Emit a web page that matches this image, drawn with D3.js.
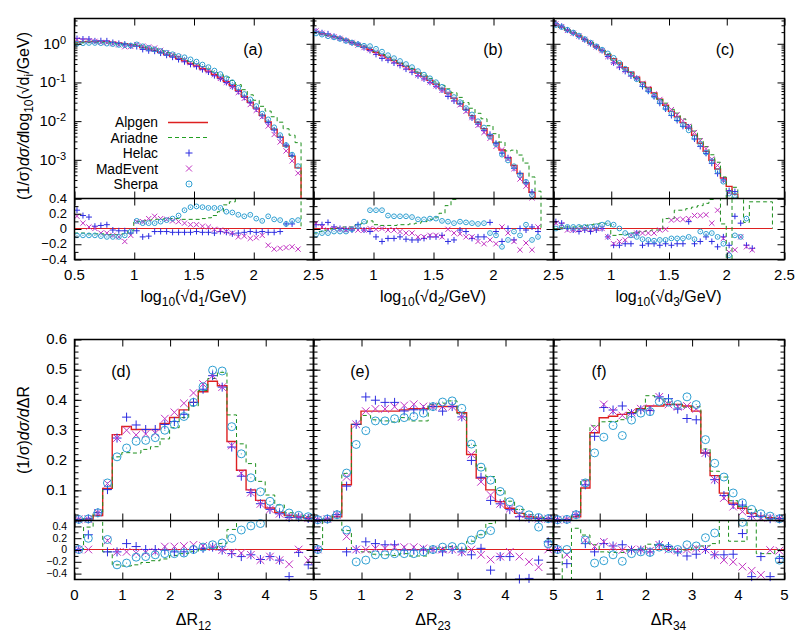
<!DOCTYPE html>
<html>
<head>
<meta charset="utf-8">
<script src="https://cdn.jsdelivr.net/npm/d3@7"></script>
<style>
body { margin: 0; background: #fff; }
svg text { font-family: "Liberation Sans", Arial, Helvetica, sans-serif; font-size: 15px; fill: #000; }
</style>
</head>
<body>
<script>
// ---- binning ----
const topBinLo = 0.5, topBinW = 0.05;   // log10(sqrt(d)/GeV) bins
const botBinLo = 0, botBinW = 0.2;      // Delta R bins

// ---- top row: Alpgen distribution, others as ratio (X - Alpgen)/Alpgen ----
const alpgenA = [1.07, 1.10, 1.12, 1.12, 1.12, 1.10, 1.07, 1.02, 0.98, 0.91, 0.85, 0.78, 0.71, 0.65, 0.58, 0.51, 0.46, 0.40, 0.35, 0.30,
  0.26, 0.22, 0.19, 0.155, 0.126, 0.102, 0.081, 0.060, 0.042, 0.030, 0.021, 0.0138, 0.0093, 0.0060, 0.0038, 0.0022, 0.0012, 0.0006];
const ariadneRatA = [-0.06, -0.06, -0.07, -0.07, -0.07, -0.08, -0.08, -0.08, -0.07, -0.03, 0.09, 0.10, 0.11, 0.12, 0.12, 0.13, 0.13, 0.13, 0.12, 0.12,
  0.12, 0.13, 0.14, 0.17, 0.22, 0.31, 0.35, 0.42, 0.5, 0.55, 0.6, 0.7, 0.9, 1.1, 1.4, 1.8, 2.5, 3.5];
const helacRatA = [0.24, 0.17, 0.15, 0.03, 0.04, 0.05, -0.02, -0.03, -0.03, -0.06, -0.03, -0.11, -0.10, -0.04, -0.04, -0.04, -0.05, -0.05, -0.05, -0.05,
  -0.04, -0.05, -0.05, -0.06, -0.04, -0.05, -0.07, -0.06, -0.05, -0.04, -0.05, -0.04, -0.05, -0.05, -0.04, 0.06, 0.06, null];
const madRatA = [0.16, 0.07, 0.02, 0.0, -0.06, -0.06, -0.09, -0.11, -0.17, -0.09, 0.09, 0.09, 0.13, 0.16, 0.13, 0.12, 0.10, 0.09, 0.07, 0.05,
  0.05, 0.03, 0.02, -0.01, -0.02, -0.04, -0.06, -0.11, -0.10, -0.13, -0.12, -0.09, -0.22, -0.27, -0.26, -0.25, -0.24, -0.27];
const sherpaRatA = [-0.09, -0.09, -0.09, -0.09, -0.10, -0.11, -0.11, -0.11, -0.09, -0.04, 0.10, 0.07, 0.07, 0.07, 0.09, 0.11, 0.13, 0.17, 0.24, 0.28,
  0.29, 0.28, 0.27, 0.27, 0.27, 0.22, 0.21, 0.18, 0.16, 0.18, 0.13, 0.10, 0.16, 0.12, 0.11, 0.06, 0.10, 0.11];

const alpgenB = [1.95, 1.78, 1.62, 1.48, 1.35, 1.20, 1.05, 0.91, 0.79, 0.68, 0.58, 0.49, 0.42, 0.355, 0.30, 0.25, 0.21, 0.17, 0.138, 0.110,
  0.087, 0.068, 0.051, 0.038, 0.0275, 0.0195, 0.0135, 0.0091, 0.0062, 0.0041, 0.0027, 0.00174, 0.0011, 0.00069, 0.00043, 0.00025, 0.00014, 0.00006];
const ariadneRatB = [-0.06, -0.04, -0.02, 0.0, 0.01, 0.02, 0.02, 0.05, 0.07, 0.10, 0.05, 0.04, 0.04, 0.04, 0.05, 0.05, 0.06, 0.07, 0.09, 0.12,
  0.15, 0.20, 0.30, 0.38, 0.45, 0.5, 0.55, 0.7, 0.8, 0.8, 0.7, 0.6, 0.5, 1.5, 2.0, 2.2, 1.5, 1.5];
const helacRatB = [0.05, 0.05, 0.08, 0.02, 0.0, -0.01, -0.02, 0.05, -0.02, -0.04, -0.11, -0.17, -0.13, -0.13, -0.11, -0.14, -0.15, -0.15, -0.13, -0.11,
  -0.11, -0.09, -0.17, -0.15, -0.02, -0.04, -0.13, -0.11, -0.11, 0.08, -0.04, -0.17, 0.0, -0.15, 0.0, -0.02, 0.02, -0.04];
const madRatB = [0.07, 0.02, -0.02, 0.0, -0.01, -0.02, 0.0, -0.02, -0.02, 0.0, -0.01, 0.0, -0.02, -0.02, -0.04, -0.06, -0.06, -0.11, -0.11, -0.09,
  -0.09, -0.11, -0.01, -0.06, -0.07, -0.11, -0.11, -0.17, -0.20, -0.15, -0.20, 0.02, -0.06, -0.17, -0.28, -0.19, -0.28, 0.02];
const sherpaRatB = [-0.08, -0.06, -0.06, -0.04, -0.04, -0.04, -0.01, 0.03, 0.09, 0.24, 0.24, 0.24, 0.17, 0.16, 0.16, 0.16, 0.15, 0.12, 0.12, 0.13,
  0.13, 0.10, 0.09, 0.07, 0.09, 0.08, 0.07, 0.06, 0.07, -0.06, -0.09, -0.24, -0.15, -0.04, -0.09, 0.05, -0.15, -0.11];

const alpgenC = [2.95, 2.57, 2.19, 1.86, 1.55, 1.26, 1.02, 0.81, 0.65, 0.51, 0.40, 0.31, 0.234, 0.178, 0.132, 0.098, 0.072, 0.052, 0.036, 0.025,
  0.0174, 0.0126, 0.0089, 0.0063, 0.0042, 0.0026, 0.0016, 0.00095, 0.00056, 0.00033, 0.0002, 0.000126, 0.00005, 0.00004, 0.00003, 0.00002, 0.00002, 0.00001];
const ariadneRatC = [0.0, 0.01, 0.02, 0.02, 0.03, 0.04, 0.05, 0.06, 0.07, 0.06, -0.09, -0.08, -0.08, -0.06, -0.05, -0.04, -0.03, -0.02, -0.02, 0.13,
  0.13, 0.24, 0.24, 0.26, 0.28, 0.30, 0.33, 0.38, 0.5, 0.06, -0.6, 0.5, 0.5, 0.08, 0.35, 0.35, 0.35, 0.35];
const helacRatC = [0.09, 0.07, 0.0, -0.02, -0.04, -0.02, -0.04, -0.02, 0.0, -0.11, -0.22, -0.22, -0.20, -0.20, -0.06, -0.22, -0.20, -0.20, -0.22, -0.20,
  -0.22, -0.20, -0.20, 0.09, -0.20, -0.17, -0.11, -0.17, -0.24, -0.11, -0.22, 0.16, 0.07, -0.22, -0.26, null, null, null];
const madRatC = [0.07, 0.05, -0.02, -0.02, -0.01, 0.0, -0.01, 0.0, 0.0, -0.11, -0.20, -0.17, -0.15, -0.09, -0.06, -0.06, -0.06, -0.06, -0.02, -0.01,
  0.11, 0.12, 0.12, 0.13, 0.17, 0.17, 0.18, 0.07, 0.24, -0.13, -0.31, -0.28, -0.11, -0.24, -0.28, null, null, null];
const sherpaRatC = [0.0, 0.02, 0.02, 0.02, 0.02, 0.02, 0.02, 0.03, 0.05, 0.07, 0.05, 0.0, -0.06, -0.09, -0.11, -0.14, -0.15, -0.16, -0.15, -0.15,
  -0.13, -0.13, -0.13, -0.11, -0.14, -0.04, -0.07, -0.06, -0.11, -0.20, -0.35, -0.09, -0.11, 0.13, null, null, null, null];

// ---- bottom row: Delta R distributions ----
const alpgenD = [0.002, 0.003, 0.015, 0.105, 0.283, 0.31, 0.30, 0.30, 0.30, 0.32, 0.34, 0.365, 0.39, 0.425, 0.46, 0.445, 0.26, 0.165, 0.10, 0.065,
  0.04, 0.025, 0.015, 0.01, 0.007];
const ariadneRatD = [0, 0.38, 0.7, -0.04, -0.26, -0.28, -0.26, -0.22, -0.19, -0.16, -0.1, -0.07, -0.03, 0.01, 0.02, 0.1, 0.34, 0.53, 0.87, 0.97,
  1.07, 1.0, 0.6, 0.6, 0.6];
const helacRatD = [0, 0.25, 0.6, -0.04, -0.04, 0.10, 0.05, 0.0, 0.0, -0.01, -0.04, -0.04, 0.0, 0.02, 0.04, -0.01, -0.07, -0.12, -0.09, -0.17,
  -0.12, -0.18, -0.46, -0.05, -0.26];
const madRatD = [0, 0.0, 0.6, 0.15, -0.04, -0.04, -0.06, -0.05, -0.04, 0.05, 0.05, 0.06, 0.08, 0.06, 0.04, -0.01, -0.05, -0.06, -0.09, -0.18,
  -0.12, -0.18, -0.25, 0.0, -0.18];
const sherpaRatD = [0, 0.19, 0.6, 0.17, -0.26, -0.23, -0.13, -0.12, -0.09, -0.07, -0.07, -0.06, 0.0, 0.04, 0.08, 0.11, 0.19, 0.33, 0.40, 0.44,
  0.55, 0.55, 0.55, 0.55, 0.55];

const alpgenE = [0.001, 0.002, 0.011, 0.117, 0.317, 0.361, 0.361, 0.361, 0.361, 0.365, 0.369, 0.369, 0.376, 0.376, 0.376, 0.356, 0.217, 0.139, 0.10, 0.061,
  0.039, 0.022, 0.011, 0.006, 0.004];
const ariadneRatE = [0, 0.6, 0.6, 0.32, 0.0, -0.04, -0.08, -0.09, -0.1, -0.07, -0.11, -0.11, 0.02, 0.03, 0.05, -0.01, 0.14, 0.25, 0.44, 0.6,
  0.6, 0.6, 0.6, 0.6, 0.6];
const helacRatE = [0, 0.6, 0.6, -0.04, 0.0, 0.13, 0.10, 0.08, 0.08, -0.01, -0.01, -0.01, 0.0, -0.04, 0.0, -0.04, -0.09, 0.02, -0.35, -0.12,
  -0.12, -0.5, -0.49, -0.18, 0.13];
const madRatE = [0, 0.6, 0.6, 0.22, 0.0, 0.0, 0.02, 0.02, 0.04, 0.04, 0.04, 0.02, 0.0, 0.0, 0.0, -0.04, 0.0, -0.09, -0.17, -0.12,
  -0.04, -0.12, -0.21, -0.3, 0.0];
const sherpaRatE = [0, 0.6, 0.6, 0.33, -0.21, -0.18, -0.09, -0.09, -0.07, -0.07, -0.07, -0.04, 0.0, 0.04, 0.05, 0.04, 0.16, 0.26, 0.32, 0.55,
  0.55, 0.55, 0.55, 0.38, 0.1];

const alpgenF = [0.001, 0.002, 0.011, 0.106, 0.289, 0.339, 0.344, 0.35, 0.356, 0.369, 0.378, 0.378, 0.383, 0.383, 0.378, 0.361, 0.222, 0.147, 0.089, 0.056,
  0.039, 0.022, 0.013, 0.008, 0.005];
const ariadneRatF = [0, -1, 0.36, 0.245, 0.08, -0.04, -0.05, -0.05, 0.0, 0.0, 0.09, 0.07, 0.02, 0.0, -0.01, 0.04, 0.06, 0.1, 0.6, 0.14,
  0.14, 0.6, -0.07, -0.07, 0.0];
const helacRatF = [0, -0.24, 0.6, 0.1, -0.04, 0.1, 0.06, 0.08, -0.01, -0.01, -0.04, 0.08, 0.05, -0.04, -0.11, -0.08, 0.0, -0.09, -0.09, -0.08,
  0.27, -0.46, -0.12, -0.46, -0.15];
const madRatF = [0, -0.09, 0.6, 0.16, 0.05, 0.13, 0.05, -0.01, 0.0, 0.0, -0.02, 0.08, 0.0, -0.02, 0.0, 0.02, 0.0, -0.09, -0.18, -0.21,
  -0.29, -0.36, -0.43, -0.01, -0.02];
const sherpaRatF = [0, 0.0, 0.6, 0.16, -0.23, -0.19, -0.09, -0.2, -0.07, -0.04, -0.05, 0.04, 0.02, 0.0, 0.08, 0.06, 0.2, 0.28, 0.6, 0.6,
  0.46, 0.6, 0.6, 0.6, -0.18];

const legendNames = ["Alpgen", "Ariadne", "Helac", "MadEvent", "Sherpa"];
const panelTags = ["(a)", "(b)", "(c)", "(d)", "(e)", "(f)"];

// ---- style ----
const colAlp = "#dd2020", colAri = "#1d8f1d", colHel = "#2b2be0", colMad = "#c233c2", colShe = "#2e9fd2";

const svg = d3.select("body").append("svg").attr("width", 802).attr("height", 642);
svg.append("rect").attr("width", 802).attr("height", 642).attr("fill", "#fff");
const defs = svg.append("defs");

// log minor ticks at 2..9 of each decade
const logMinor = [];
[1e-4, 1e-3, 1e-2, 1e-1, 1].forEach(dec => [2, 3, 4].forEach(k => { if (k * dec <= 4.5) logMinor.push(k * dec); }));
[1e-4, 1e-3, 1e-2, 1e-1].forEach(dec => [5, 6, 7, 8, 9].forEach(k => logMinor.push(k * dec)));

const topRow = {
  lo: topBinLo, bw: topBinW, xDom: [0.5, 2.5], xMajor: [0.5, 1, 1.5, 2, 2.5],
  main: [18, 198], ratio: [198, 259], ratDom: [-0.4, 0.4],
  ratMajor: [-0.4, -0.2, 0, 0.2, 0.4], ratMinor: [-0.3, -0.1, 0.1, 0.3], ratFont: 13,
  log: true, mainDom: [1e-4, 4.5], mainMajor: [1e-4, 1e-3, 1e-2, 1e-1, 1], mainMinor: logMinor, minorLen: 3,
  mainLabels: [1e-3, 1e-2, 1e-1, 1],
  sym: { plus: 3, cross: 2.6, circ: 2.4 }, xLabY: 302, tagY: 55
};
const botRow = {
  lo: botBinLo, bw: botBinW, xDom: [0, 5], xMajor: [0, 1, 2, 3, 4, 5],
  main: [339, 520], ratio: [520, 579], ratDom: [-0.5, 0.5],
  ratMajor: [-0.4, -0.2, 0, 0.2, 0.4], ratMinor: [-0.3, -0.1, 0.1, 0.3], ratFont: 10.5,
  log: false, mainDom: [0, 0.6], mainMajor: d3.range(0, 0.61, 0.1), mainMinor: d3.range(0.02, 0.6, 0.02), minorLen: 4,
  mainLabels: [0.1, 0.2, 0.3, 0.4, 0.5, 0.6],
  sym: { plus: 4.5, cross: 3.8, circ: 4 }, xLabY: 625, tagY: 377
};

const panels = [
  { row: topRow, x0: 74, x1: 313, alp: alpgenA, ari: ariadneRatA, hel: helacRatA, mad: madRatA, she: sherpaRatA, tagX: 253, sub: "1" },
  { row: topRow, x0: 313, x1: 553, alp: alpgenB, ari: ariadneRatB, hel: helacRatB, mad: madRatB, she: sherpaRatB, tagX: 493, sub: "2" },
  { row: topRow, x0: 553, x1: 784, alp: alpgenC, ari: ariadneRatC, hel: helacRatC, mad: madRatC, she: sherpaRatC, tagX: 725, sub: "3" },
  { row: botRow, x0: 74, x1: 313, alp: alpgenD, ari: ariadneRatD, hel: helacRatD, mad: madRatD, she: sherpaRatD, tagX: 121, sub: "12" },
  { row: botRow, x0: 313, x1: 553, alp: alpgenE, ari: ariadneRatE, hel: helacRatE, mad: madRatE, she: sherpaRatE, tagX: 360, sub: "23" },
  { row: botRow, x0: 553, x1: 784, alp: alpgenF, ari: ariadneRatF, hel: helacRatF, mad: madRatF, she: sherpaRatF, tagX: 599, sub: "34" }
];

function stepPath(x, y, lo, bw, vals, yEnd) {
  let d = "";
  vals.forEach((v, i) => {
    const yy = y(v);
    d += (i === 0 ? "M" + x(lo) + "," + yy : "V" + yy) + "H" + x(lo + (i + 1) * bw);
  });
  if (yEnd != null) d += "V" + yEnd;
  return d;
}

function drawSym(g, type, pts, s, col) {
  if (type === "plus") {
    g.selectAll(null).data(pts).join("path")
      .attr("d", d => `M${d[0] - s},${d[1]}h${2 * s}M${d[0]},${d[1] - s}v${2 * s}`)
      .attr("stroke", col).attr("stroke-width", 1).attr("fill", "none");
  } else if (type === "cross") {
    g.selectAll(null).data(pts).join("path")
      .attr("d", d => `M${d[0] - s},${d[1] - s}l${2 * s},${2 * s}M${d[0] - s},${d[1] + s}l${2 * s},${-2 * s}`)
      .attr("stroke", col).attr("stroke-width", 1).attr("fill", "none");
  } else {
    g.selectAll(null).data(pts).join("circle")
      .attr("cx", d => d[0]).attr("cy", d => d[1]).attr("r", s)
      .attr("stroke", col).attr("stroke-width", 1).attr("fill", "none");
    g.selectAll(null).data(pts).join("circle")
      .attr("cx", d => d[0]).attr("cy", d => d[1]).attr("r", 0.6).attr("fill", col);
  }
}

function tickAxis(axis, tr) {
  const a = svg.append("g").attr("transform", tr).call(axis);
  a.select(".domain").remove();
  a.selectAll("text").remove();
  a.selectAll("line").attr("stroke", "#000");
}

function labelAxis(axis, tr) {
  const a = svg.append("g").attr("transform", tr).call(axis);
  a.select(".domain").remove();
  a.selectAll("line").remove();
  a.attr("font-size", null).attr("font-family", null);
  return a;
}

function drawPanel(p, idx) {
  const r = p.row;
  const x = d3.scaleLinear().domain(r.xDom).range([p.x0, p.x1]);
  const yM = r.log ? d3.scaleLog().domain(r.mainDom).range([r.main[1], r.main[0]])
                   : d3.scaleLinear().domain(r.mainDom).range([r.main[1], r.main[0]]);
  const yR = d3.scaleLinear().domain(r.ratDom).range([r.ratio[1], r.ratio[0]]);
  const yMs = v => (r.log && v <= 0) ? r.main[1] + 5 : Math.max(r.main[0] - 5, Math.min(r.main[1] + 5, yM(v)));
  const yRs = v => Math.max(r.ratio[0] - 5, Math.min(r.ratio[1] + 5, yR(v)));
  const n = p.alp.length;
  const xEnd = r.lo + n * r.bw;

  // clip regions
  defs.append("clipPath").attr("id", "cm" + idx).append("rect")
    .attr("x", p.x0).attr("y", r.main[0]).attr("width", p.x1 - p.x0).attr("height", r.main[1] - r.main[0]);
  defs.append("clipPath").attr("id", "cr" + idx).append("rect")
    .attr("x", p.x0).attr("y", r.ratio[0]).attr("width", p.x1 - p.x0).attr("height", r.ratio[1] - r.ratio[0]);

  const ariMain = p.alp.map((a, i) => a * (1 + p.ari[i]));

  // main plot lines
  const gm = svg.append("g").attr("clip-path", `url(#cm${idx})`);
  gm.append("path").attr("d", stepPath(x, yMs, r.lo, r.bw, p.alp, r.log ? r.main[1] + 5 : null))
    .attr("fill", "none").attr("stroke", colAlp).attr("stroke-width", 1.4);
  gm.append("path").attr("d", stepPath(x, yMs, r.lo, r.bw, ariMain, r.log ? r.main[1] + 5 : null))
    .attr("fill", "none").attr("stroke", colAri).attr("stroke-width", 1).attr("stroke-dasharray", "4,3");

  // ratio plot lines
  const gr = svg.append("g").attr("clip-path", `url(#cr${idx})`);
  gr.append("path").attr("d", d3.line()([[x(r.lo), yR(0)], [x(xEnd), yR(0)]]))
    .attr("fill", "none").attr("stroke", colAlp).attr("stroke-width", 1.2);
  gr.append("path").attr("d", stepPath(x, yRs, r.lo, r.bw, p.ari, yR(0)))
    .attr("fill", "none").attr("stroke", colAri).attr("stroke-width", 1).attr("stroke-dasharray", "4,3");

  // points
  const series = [[p.hel, "plus", colHel, r.sym.plus], [p.mad, "cross", colMad, r.sym.cross], [p.she, "circ", colShe, r.sym.circ]];
  const gp = svg.append("g");
  series.forEach(([rat, type, col, s]) => {
    const mainPts = [], ratPts = [];
    rat.forEach((q, i) => {
      if (q == null) return;
      const xc = x(r.lo + (i + 0.5) * r.bw);
      const v = p.alp[i] * (1 + q);
      if (v >= r.mainDom[0] && v <= r.mainDom[1]) mainPts.push([xc, yM(v)]);
      if (q >= r.ratDom[0] && q <= r.ratDom[1]) ratPts.push([xc, yR(q)]);
    });
    drawSym(gp, type, mainPts, s, col);
    drawSym(gp, type, ratPts, s, col);
  });

  // inward ticks on every side
  [[r.main, yM, r.mainMajor, r.mainMinor, r.minorLen], [r.ratio, yR, r.ratMajor, r.ratMinor, 4]].forEach(([box, y, maj, min, mlen]) => {
    tickAxis(d3.axisBottom(x).tickValues(r.xMajor).tickSize(-7), `translate(0.5,${box[1] + 0.5})`);
    tickAxis(d3.axisTop(x).tickValues(r.xMajor).tickSize(-7), `translate(0.5,${box[0] + 0.5})`);
    tickAxis(d3.axisLeft(y).tickValues(maj).tickSize(-7), `translate(${p.x0 + 0.5},0.5)`);
    tickAxis(d3.axisRight(y).tickValues(maj).tickSize(-7), `translate(${p.x1 + 0.5},0.5)`);
    if (min) {
      tickAxis(d3.axisLeft(y).tickValues(min).tickSize(-mlen), `translate(${p.x0 + 0.5},0.5)`);
      tickAxis(d3.axisRight(y).tickValues(min).tickSize(-mlen), `translate(${p.x1 + 0.5},0.5)`);
    }
  });

  // frames
  svg.append("rect").attr("x", p.x0 + 0.5).attr("y", r.main[0] + 0.5)
    .attr("width", p.x1 - p.x0).attr("height", r.ratio[1] - r.main[0])
    .attr("fill", "none").attr("stroke", "#000").attr("stroke-width", 1.5);
  svg.append("line").attr("x1", p.x0).attr("x2", p.x1).attr("y1", r.main[1] + 0.5).attr("y2", r.main[1] + 0.5)
    .attr("stroke", "#000").attr("stroke-width", 1.5);

  // x tick labels
  const first = (idx % 3 === 0);
  labelAxis(d3.axisBottom(x).tickValues(first ? r.xMajor : r.xMajor.slice(1)).tickSize(0).tickPadding(10).tickFormat(d => String(d)),
    `translate(0,${r.ratio[1]})`);

  // y tick labels on the left panels
  if (first) {
    const ml = labelAxis(d3.axisLeft(yM).tickValues(r.mainLabels).tickSize(0).tickPadding(r.log ? 8 : 7)
      .tickFormat(d => r.log ? "10" : d3.format(".1f")(d)), `translate(${p.x0},0)`);
    if (r.log) {
      ml.selectAll("text").each(function (d) {
        d3.select(this).append("tspan").attr("dy", "-0.45em").attr("font-size", "11px").text(Math.round(Math.log10(d)));
      });
    }
    const rl = labelAxis(d3.axisLeft(yR).tickValues(r.ratMajor).tickSize(0).tickPadding(7)
      .tickFormat(d => d === 0 ? "0" : d3.format(".1f")(d)), `translate(${p.x0},0)`);
    rl.selectAll("text").style("font-size", r.ratFont + "px");
  }

  // x axis title
  const xt = svg.append("text").attr("x", (p.x0 + p.x1) / 2).attr("y", r.xLabY).attr("text-anchor", "middle")
    .style("font-size", "16px");
  if (r.log) {
    xt.append("tspan").text("log");
    xt.append("tspan").attr("dy", 4).attr("font-size", "12px").text("10");
    xt.append("tspan").attr("dy", -4).text("(√d");
    xt.append("tspan").attr("dy", 4).attr("font-size", "12px").text(p.sub);
    xt.append("tspan").attr("dy", -4).text("/GeV)");
  } else {
    xt.append("tspan").text("ΔR");
    xt.append("tspan").attr("dy", 5).attr("font-size", "12px").text(p.sub);
  }

  // panel tag
  svg.append("text").attr("x", p.tagX).attr("y", r.tagY).attr("text-anchor", "middle")
    .style("font-size", "16px").text(panelTags[idx]);
}

panels.forEach(drawPanel);

// y axis titles
const yt1 = svg.append("text").attr("transform", "translate(29,116) rotate(-90)").attr("text-anchor", "middle")
  .style("font-size", "16px");
yt1.append("tspan").text("(1/σ)");
yt1.append("tspan").attr("font-style", "italic").text("dσ/d");
yt1.append("tspan").text("log");
yt1.append("tspan").attr("dy", 4).attr("font-size", "12px").text("10");
yt1.append("tspan").attr("dy", -4).text("(√d");
yt1.append("tspan").attr("dy", 4).attr("font-size", "12px").text("i");
yt1.append("tspan").attr("dy", -4).text("/GeV)");

const yt2 = svg.append("text").attr("transform", "translate(29,430) rotate(-90)").attr("text-anchor", "middle")
  .style("font-size", "16px");
yt2.append("tspan").text("(1/σ)");
yt2.append("tspan").attr("font-style", "italic").text("dσ/d");
yt2.append("tspan").text("ΔR");

// legend (inside panel a)
const legY = [122, 137.5, 153, 168.5, 184];
const lg = svg.append("g");
legendNames.forEach((name, i) => {
  lg.append("text").attr("x", 158).attr("y", legY[i] + 5).attr("text-anchor", "end")
    .style("font-size", "13.8px").text(name);
});
lg.append("line").attr("x1", 168).attr("x2", 208).attr("y1", 122.5).attr("y2", 122.5)
  .attr("stroke", colAlp).attr("stroke-width", 1.4);
lg.append("line").attr("x1", 168).attr("x2", 208).attr("y1", 137.5).attr("y2", 137.5)
  .attr("stroke", "#22a022").attr("stroke-width", 1.2).attr("stroke-dasharray", "4,3");
drawSym(lg, "plus", [[189, legY[2]]], 3.5, colHel);
drawSym(lg, "cross", [[189, legY[3]]], 3, colMad);
drawSym(lg, "circ", [[189, legY[4]]], 3, colShe);
</script>
</body>
</html>
